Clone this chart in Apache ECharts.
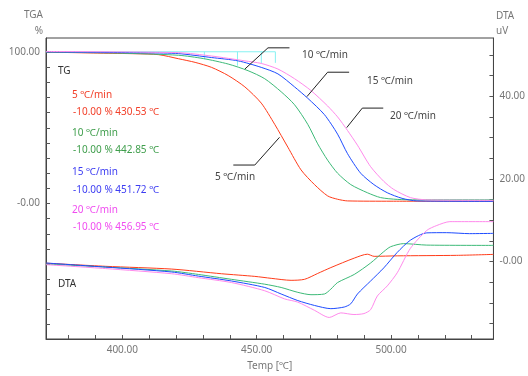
<!DOCTYPE html>
<html>
<head>
<meta charset="utf-8">
<script src="https://cdn.jsdelivr.net/npm/echarts@6/dist/echarts.min.js"></script>
<style>
html,body{margin:0;padding:0;background:#fff;}
#c{width:528px;height:376px;}
</style>
</head>
<body>
<div id="c"></div>
<script>
// ---- data (temperature ℃, value) ----
const rates = ['5', '10', '15', '20'];
const tenPctTemps = [430.53, 442.85, 451.72, 456.95];
const tenPctMarkerBottom = [95.3, 91.0, 92.5, 92.9];

const tg5 = [[371.6,100.0],[391.7,99.3],[405,98.9],[413.5,98.3],[420.9,95.6],[427.1,93.2],[433.2,89.9],[439.4,84.5],[445.6,77.0],[451.7,66.3],[456.7,52.3],[461.6,37.2],[466.5,22.2],[471.5,12.5],[476.4,5.0],[480.1,2.8],[483.8,1.7],[500,1.5],[538.1,1.5]];
const tg10 = [[371.6,100.0],[398.7,99.3],[420.9,97.9],[430.2,95.7],[439.4,92.1],[446.8,87.7],[453.0,82.4],[459.1,73.8],[464.1,65.2],[469.0,52.3],[472.7,39.4],[476.4,28.6],[480.1,20.0],[485.0,12.5],[491.2,7.1],[496.1,3.9],[502.3,2.7],[509.7,2.4],[538.1,2.4]];
const tg15 = [[371.6,100.1],[409.8,99.5],[420.9,99.0],[433.2,96.4],[443.1,94.2],[451.7,89.9],[457.9,85.6],[464.1,77.0],[469.0,69.5],[475.2,58.7],[480.1,45.8],[483.8,32.9],[488.7,20.0],[493.6,12.5],[498.6,7.1],[504.1,3.4],[509.6,1.7],[538.1,1.4]];
const tg20 = [[371.6,100.4],[420.9,99.6],[433.2,97.4],[445.6,94.2],[451.7,92.5],[457.9,88.8],[464.1,82.4],[470.2,74.6],[476.4,64.4],[480.1,57.2],[483.8,48.2],[487.5,38.5],[492.4,24.3],[497.3,14.6],[501.0,9.3],[507.2,3.9],[513.3,2.4],[538.1,2.1]];

const dta5 = [[371.6,-0.43],[393.8,-1.18],[418.4,-1.85],[436.9,-2.98],[449.3,-3.62],[455.4,-4.09],[462.8,-4.57],[467.8,-4.33],[472.7,-2.91],[477.6,-1.49],[486.3,0.80],[491.2,1.75],[493.7,1.23],[502.3,1.35],[524.4,1.47],[538.1,1.70]];
const dta10 = [[371.6,-0.62],[393.8,-1.37],[418.4,-2.32],[428.3,-3.15],[440.6,-4.33],[453.0,-5.51],[459.1,-6.30],[465.3,-7.48],[470.2,-8.05],[475.2,-7.88],[477.6,-6.70],[480.1,-5.11],[486.3,-3.15],[492.4,-0.38],[497.3,2.37],[499.8,3.55],[504.7,4.31],[513.3,3.95],[538.1,3.88]];
const dta15 = [[371.6,-0.38],[393.8,-1.37],[418.4,-2.56],[428.3,-3.55],[440.6,-4.73],[453.0,-6.30],[459.1,-7.88],[465.3,-9.47],[471.5,-10.65],[477.6,-11.43],[482.6,-11.03],[485.0,-10.25],[487.5,-7.88],[492.4,-4.73],[497.3,-1.56],[502.3,2.18],[507.2,5.14],[513.3,6.91],[520.7,6.96],[529.2,6.72],[538.1,6.79]];
const dta20 = [[371.6,-0.78],[393.8,-1.73],[418.4,-2.98],[428.3,-3.93],[440.6,-5.11],[453.0,-7.10],[460.4,-9.07],[465.3,-9.85],[471.5,-11.83],[477.0,-13.56],[481.3,-12.45],[486.2,-12.85],[489.9,-12.62],[492.4,-11.67],[494.9,-8.36],[498.6,-5.92],[502.3,-2.75],[507.2,3.17],[513.3,7.50],[517.0,8.69],[521.9,9.63],[538.1,9.63]];

// leader lines for curve labels (in TG axis units)
const leader5 = [[458.5,43.7],[449.3,25.4],[441.3,25.4]];
const leader10 = [[445.6,88.8],[454.2,102.8],[462.2,102.8]];
const leader15 = [[468.7,70.6],[476.4,86.7],[484.4,86.7]];
const leader20 = [[483.5,50.1],[489.3,63.0],[497.1,63.0]];

const xTicks = [380,390,400,410,420,430,440,450,460,470,480,490,500,510,520,530];
const xLabels = [400,450,500];
const tgTicks = [-80,-70,-60,-50,-40,-30,-20,-10,0,10,20,30,40,50,60,70,80,90,100];
const tgLabels = [0,100];
const dtaTicks = [-15,-10,-5,0,5,10,15,20,25,30,35,40,45,50];
const dtaLabels = [0,20,40];

// ---- styles ----
const lineColors = ['#ff3c1a', '#3dba78', '#1e4cff', '#ff8aec'];
const textColors = ['#f2402a', '#3f9e4c', '#3d3df2', '#f04cf0'];
const FONT = '"Noto Sans", "Noto Sans CJK JP", sans-serif';
const fmt = v => (v === 0 ? '-0.00' : v.toFixed(2));

const chart = echarts.init(document.getElementById('c'), null, {renderer: 'canvas'});

const series = [];
const tgs = [tg5, tg10, tg15, tg20];
const dtas = [dta5, dta10, dta15, dta20];
for (let i = 0; i < 4; i++) {
  series.push({type: 'line', yAxisIndex: 0, data: tgs[i], showSymbol: false, smooth: 0.25,
    lineStyle: {color: lineColors[i], width: 1}, silent: true, z: 3});
  series.push({type: 'line', yAxisIndex: 1, data: dtas[i], showSymbol: false, smooth: 0.25,
    lineStyle: {color: lineColors[i], width: 1}, silent: true, z: 3});
}
// cyan -10% markers
series.push({type: 'line', yAxisIndex: 0, data: [[371.6, 100.2], [tenPctTemps[3], 100.2]], showSymbol: false,
  lineStyle: {color: '#86f2f2', width: 1}, silent: true, z: 2});
tenPctTemps.forEach((t, i) => {
  series.push({type: 'line', yAxisIndex: 0, data: [[t, 100.2], [t, tenPctMarkerBottom[i]]], showSymbol: false,
    lineStyle: {color: '#86f2f2', width: 1}, silent: true, z: 2});
});
[leader5, leader10, leader15, leader20].forEach(d => {
  series.push({type: 'line', yAxisIndex: 0, data: d, showSymbol: false,
    lineStyle: {color: '#222', width: 1}, silent: true, z: 4});
});

const txt = (x, y, s, color, align) => ({type: 'text', x: x, y: y,
  style: {text: s, fill: color, font: '10px ' + FONT, textAlign: align || 'left', textVerticalAlign: 'middle'}, z: 10});

const graphics = [
  txt(43, 15, 'TGA', '#777', 'right'),
  txt(43, 31, '%', '#777', 'right'),
  txt(496, 16, 'DTA', '#777', 'left'),
  txt(496, 31, 'uV', '#777', 'left'),
  txt(58, 71, 'TG', '#333'),
  txt(58, 284, 'DTA', '#333'),
  txt(302, 55, '10 ℃/min', '#444'),
  txt(367, 81, '15 ℃/min', '#444'),
  txt(390, 116, '20 ℃/min', '#444'),
  txt(215, 177, '5 ℃/min', '#444'),
];
const legendY = [[95, 112], [133, 150], [172, 190], [210, 227]];
rates.forEach((r, i) => {
  graphics.push(txt(72, legendY[i][0], r + ' ℃/min', textColors[i]));
  graphics.push(txt(73, legendY[i][1], '-10.00 % ' + tenPctTemps[i].toFixed(2) + ' ℃', textColors[i]));
});

const axisLabelStyle = {color: '#777', fontSize: 10, fontFamily: FONT};

chart.setOption({
  animation: false,
  backgroundColor: '#fff',
  grid: {left: 46, right: 31, top: 38, bottom: 30, show: true, borderColor: '#444', borderWidth: 1},
  xAxis: {
    type: 'value', min: 371.6, max: 538.1,
    name: 'Temp [℃]', nameLocation: 'middle', nameGap: 22,
    nameTextStyle: {color: '#777', fontSize: 10, fontFamily: FONT},
    axisLine: {show: true, onZero: false, lineStyle: {color: '#444'}},
    axisTick: {show: true, inside: true, length: 4, customValues: xTicks, lineStyle: {color: '#555'}},
    axisLabel: Object.assign({customValues: xLabels, margin: 6, formatter: fmt}, axisLabelStyle),
    splitLine: {show: false}
  },
  yAxis: [{
    type: 'value', min: -89.5, max: 109.3, position: 'left',
    axisLine: {show: true, onZero: false, lineStyle: {color: '#444'}},
    axisTick: {show: true, inside: true, length: 4, customValues: tgTicks, lineStyle: {color: '#555'}},
    axisLabel: Object.assign({customValues: tgLabels, margin: 6, formatter: fmt}, axisLabelStyle),
    splitLine: {show: false}
  }, {
    type: 'value', min: -18.77, max: 54.06, position: 'right',
    axisLine: {show: true, onZero: false, lineStyle: {color: '#444'}},
    axisTick: {show: true, inside: true, length: 4, customValues: dtaTicks, lineStyle: {color: '#555'}},
    axisLabel: Object.assign({customValues: dtaLabels, margin: 6, formatter: fmt}, axisLabelStyle),
    splitLine: {show: false}
  }],
  graphic: graphics,
  series: series
});
</script>
</body>
</html>
